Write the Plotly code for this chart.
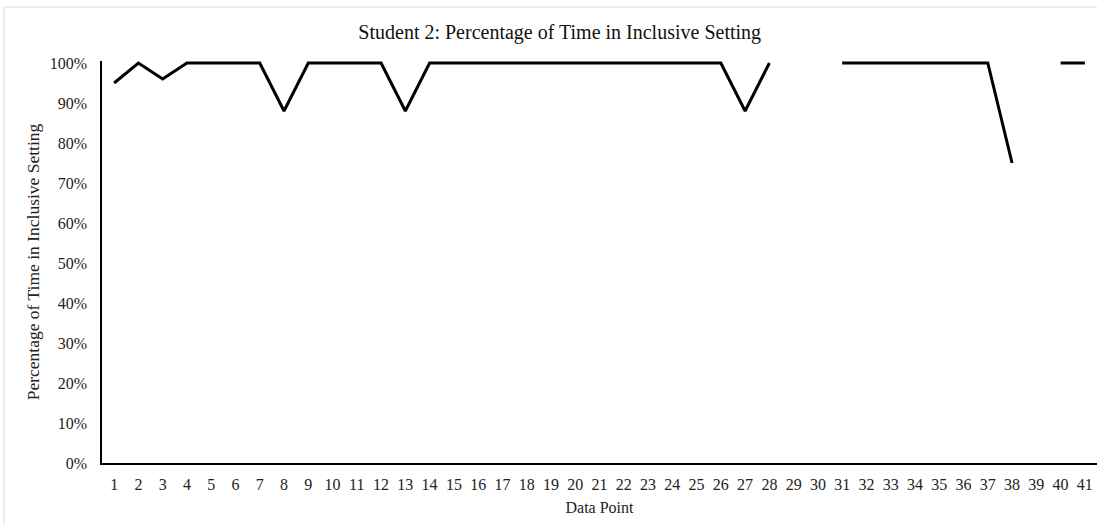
import plotly.graph_objects as go

# Session numbers and percentage of time spent in the inclusive setting
data_points = list(range(1, 42))
pct_inclusive = [
    95, 100, 96, 100, 100, 100, 100, 88, 100, 100,
    100, 100, 88, 100, 100, 100, 100, 100, 100, 100,
    100, 100, 100, 100, 100, 100, 88, 100, None, None,
    100, 100, 100, 100, 100, 100, 100, 75, None, 100,
    100,
]
y_ticks = list(range(0, 101, 10))
y_tick_labels = [f"{v}%" for v in y_ticks]

FONT = "Liberation Serif, Times New Roman, serif"

fig = go.Figure()
fig.add_trace(go.Scatter(
    x=data_points,
    y=pct_inclusive,
    mode="lines",
    line=dict(color="black", width=3),
    connectgaps=False,
    showlegend=False,
))

fig.update_layout(
    width=1097,
    height=525,
    margin=dict(l=102, r=0, t=61, b=62),
    paper_bgcolor="white",
    plot_bgcolor="white",
    font=dict(family=FONT, color="#222222", size=16),
    title=dict(
        text="Student 2: Percentage of Time in Inclusive Setting",
        x=0.46, xanchor="center", xref="paper",
        y=1 - 32 / 525, yanchor="middle",
        font=dict(family=FONT, size=20, color="#111111"),
    ),
    xaxis=dict(
        range=[0.5, 41.5],
        tickmode="array",
        tickvals=data_points,
        ticktext=[str(v) for v in data_points],
        showgrid=False,
        zeroline=False,
        showline=True,
        linecolor="black",
        linewidth=1.5,
        ticks="",
        ticklabelstandoff=6,
        tickfont=dict(family=FONT, size=16, color="#222222"),
        title=dict(text="Data Point", font=dict(family=FONT, size=16, color="#222222"), standoff=10),
    ),
    yaxis=dict(
        range=[0, 100.5],
        tickmode="array",
        tickvals=y_ticks,
        ticktext=y_tick_labels,
        showgrid=False,
        zeroline=False,
        showline=True,
        linecolor="black",
        linewidth=1.5,
        ticks="",
        ticklabelstandoff=10,
        tickfont=dict(family=FONT, size=16, color="#222222"),
        title=dict(text="Percentage of Time in Inclusive Setting",
                   font=dict(family=FONT, size=17.5, color="#222222"), standoff=6),
    ),
    shapes=[
        dict(type="rect", xref="paper", yref="paper",
             x0=(4 - 102) / 995, x1=1.05,
             y0=-0.3, y1=(463 - 7) / 402,
             line=dict(color="#d9d9d9", width=1), fillcolor="rgba(0,0,0,0)",
             layer="below"),
    ],
)

fig.write_html("out.html")
